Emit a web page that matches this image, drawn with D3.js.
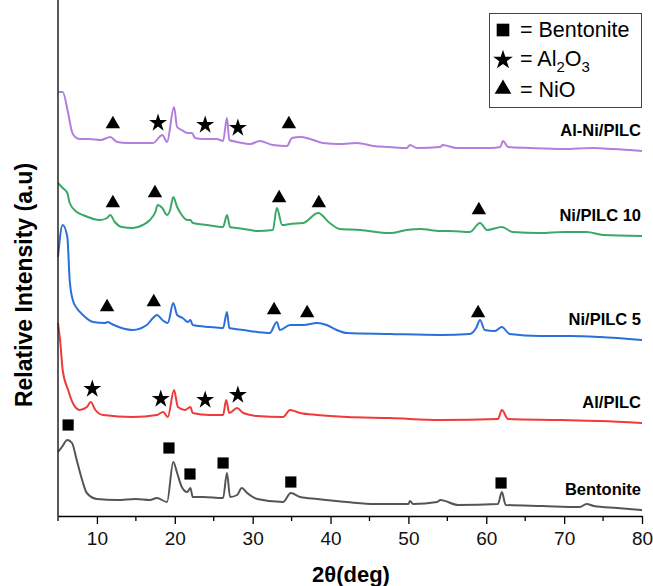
<!DOCTYPE html>
<html>
<head>
<meta charset="utf-8">
<script src="https://cdn.jsdelivr.net/npm/d3@7"></script>
<style>
    body { margin: 0; background: white; }
    svg { font-family: "Liberation Sans", Arial, sans-serif; }
</style>
</head>
<body>
<svg id="xrd"></svg>
<script>
// 2theta (deg), stacked intensity (a.u.)
var bentonite = [[5,64],[5.5,69],[6.2,76],[6.8,73],[7.4,56],[8.1,36],[8.7,23],[10,17],[12.6,16],[15,17],[16.8,16],
    [17.7,18],[19,14],[19.8,54],[20.3,43],[20.9,29],[21.6,24],[22,28],[22.3,19],[23.6,19],[26.2,18],[26.7,43],
    [27.1,19],[28,21],[28.6,28],[29.3,23],[30.6,17],[33.9,14],[34.9,23],[36.1,19],[38.3,17],[42.1,14],[45.7,12],
    [50,12],[50.2,15],[50.6,12],[53.7,14],[54.1,16],[56.4,11],[61.5,12],[62,24],[62.5,11],[67.2,10],[72,9],
    [72.9,12],[73.8,10],[76.8,8],[80,6]]

var alPilc = [[5,193],[5.3,173],[5.6,146],[6.3,126],[6.9,113],[7.8,106],[8.7,109],[9.2,114],[9.8,106],[10.8,101],
    [14.6,99],[17.7,101],[18.5,104],[19.1,99],[19.9,126],[20.4,109],[21.3,106],[22,109],[22.3,103],[24.5,101],
    [26.2,101],[26.6,116],[27,103],[28,108],[28.8,103],[30.6,100],[33.9,99],[34.8,106],[36.1,103],[38.3,101],
    [42.1,99],[47.6,98],[54.1,96],[61.5,97],[62,106],[62.8,97],[69.5,96],[74.6,95],[80,93]]

var niPilc5 = [[5,259],[5.6,291],[6.2,279],[6.5,236],[6.9,216],[7.4,208],[8.2,201],[9.5,194],[11,193],[11.4,194],
    [11.9,192],[14.6,186],[16.4,191],[17.2,198],[17.7,201],[18.4,196],[19.1,193],[19.8,213],[20.3,201],[21,198],
    [21.7,194],[22,196],[22.3,191],[24.5,189],[26.2,188],[26.7,204],[27,188],[28.8,186],[30.6,184],[32.2,183],
    [33.1,194],[33.5,186],[34.8,191],[36.5,191],[38.3,193],[39.5,191],[40.8,186],[42.1,183],[47.6,182],[54.1,181],
    [57.9,182],[58.7,188],[59.2,196],[59.8,186],[61.1,185],[62,189],[63,182],[66.9,180],[70.8,180],[74.6,179],[80,176]]

var niPilc10 = [[5,333],[5.6,328],[6.2,323],[6.5,313],[7.4,304],[8.2,301],[10.4,296],[11.3,298],[11.7,301],[12.3,294],
    [13.2,289],[14.6,288],[15.9,291],[16.8,296],[17.5,304],[17.8,311],[18.4,308],[19,301],[19.4,306],[19.8,319],
    [20.3,309],[20.9,301],[21.6,296],[22,296],[22.3,293],[24.1,291],[26.2,289],[26.7,301],[27.1,289],[28,288],
    [29.7,286],[30.6,285],[32.6,286],[33.1,308],[33.8,291],[34.8,292],[36.5,293],[38.4,303],[39.9,293],[41.2,287],
    [43.8,286],[47.6,283],[49.8,286],[51.5,287],[54.1,285],[55.3,285],[57.9,284],[59.2,293],[60.1,286],[62,289],
    [63.4,284],[66.9,283],[69.9,284],[72.9,284],[75,281],[80,280]]

var alNiPilc = [[5,424],[5.6,424],[6.3,403],[6.8,384],[7.2,379],[7.8,377],[9,377],[10.5,376],[11.7,379],[12.6,374],
    [14,373],[16,373],[17.2,373],[18.4,381],[19,374],[19.9,409],[20.3,389],[20.9,386],[21.6,383],[22.2,383],
    [22.6,378],[23.6,377],[25.4,377],[26.2,375],[26.7,398],[27,376],[28,374],[29.7,372],[30.9,375],[32.6,371],
    [34.4,370],[35.05,378],[36.1,379],[37.4,377],[39,373],[41.2,372],[43.4,373],[45.5,370],[47.6,369],[49.8,368],
    [50.2,371],[51.1,368],[54.1,369],[54.4,371],[56.2,368],[60.5,368],[61.8,369],[62.15,375],[62.8,369],
    [65.6,368],[69.9,367],[73.7,368],[76.3,367],[80,365]]

var seriesNames = ["Bentonite", "Al/PILC", "Ni/PILC 5", "Ni/PILC 10", "Al-Ni/PILC"]
var seriesData = [bentonite, alPilc, niPilc5, niPilc10, alNiPilc]
var seriesColors = ["#555555", "#ee3a3a", "#2b70da", "#3aa966", "#b27fdd"]

// phase markers: 2theta, a.u.
var squareMarks = [[6.3,91],[19.25,68],[21.95,42],[26.2,53],[34.9,34],[61.9,33]]
var starMarks = [[9.4,127],[18.2,117],[23.9,116],[28.1,121],
    [17.85,393],[23.9,391],[28.1,388]]
var triangleMarks = [[11.3,209],[17.3,214],[32.75,206],[37,203],[58.95,203],
    [12.05,313],[17.45,323],[33.4,318],[38.5,313],[59.05,306],
    [12.05,392],[34.65,392]]

var xTicks = [10, 20, 30, 40, 50, 60, 70, 80]
var xMinorTicks = [5, 15, 25, 35, 45, 55, 65, 75]

var svg_dimensions = {
    width: 653,
    height: 586,
    margin: { top: 0, bottom: 70, right: 11, left: 58 }
}

var svg = d3.select("#xrd")
            .attr("width", svg_dimensions.width)
            .attr("height", svg_dimensions.height)

var xScale = d3.scaleLinear()
               .domain([5, 80])
               .range([svg_dimensions.margin.left, svg_dimensions.width - svg_dimensions.margin.right])

var yScale = d3.scaleLinear()
               .domain([0, 460])
               .range([svg_dimensions.height - svg_dimensions.margin.bottom, 56])

var lineGen = d3.line()
                .x(d => xScale(d[0]))
                .y(d => yScale(d[1]))
                .curve(d3.curveMonotoneX)

svg.append("g")
   .selectAll("path")
   .data(seriesData)
   .enter()
   .append("path")
   .attr("d", d => lineGen(d))
   .attr("fill", "none")
   .attr("stroke", (d, i) => seriesColors[i])
   .attr("stroke-width", 2)
   .attr("stroke-linejoin", "round")

// trace labels, right aligned just above the end of each trace
svg.append("g")
   .selectAll("text")
   .data(seriesData)
   .enter()
   .append("text")
   .attr("x", xScale(80) - 1)
   .attr("y", d => yScale(d[d.length - 1][1]) - 15)
   .attr("text-anchor", "end")
   .attr("font-weight", "bold")
   .attr("font-size", "16.5px")
   .text((d, i) => seriesNames[i])

function drawMarks(marks, type, size) {
    svg.append("g")
       .selectAll("path")
       .data(marks)
       .enter()
       .append("path")
       .attr("d", d3.symbol().type(type).size(size))
       .attr("transform", d => `translate(${xScale(d[0])},${yScale(d[1])})`)
       .attr("fill", "black")
}

drawMarks(squareMarks, d3.symbolSquare, 125)
drawMarks(starMarks, d3.symbolStar, 100)
drawMarks(triangleMarks, d3.symbolTriangle, 90)

// axes
var xAxisGen = d3.axisBottom().scale(xScale).tickValues(xTicks).tickSize(8).tickSizeOuter(0).tickPadding(8)

var xAxis = svg.append("g")
               .attr("transform", `translate(0,${yScale(0)})`)
               .call(xAxisGen)

xAxis.selectAll("text")
     .attr("font-size", "19px")
     .attr("font-family", "Liberation Sans, Arial, sans-serif")
     .attr("fill", "#111")
xAxis.select(".domain").attr("stroke-width", 1.5)
xAxis.selectAll(".tick line").attr("stroke-width", 1.3)

svg.append("g")
   .attr("transform", `translate(0,${yScale(0)})`)
   .selectAll("line")
   .data(xMinorTicks)
   .enter()
   .append("line")
   .attr("x1", d => xScale(d))
   .attr("x2", d => xScale(d))
   .attr("y1", 0)
   .attr("y2", 5)
   .attr("stroke", "black")
   .attr("stroke-width", 1.3)

svg.append("line")
   .attr("x1", xScale(5))
   .attr("x2", xScale(5))
   .attr("y1", 0)
   .attr("y2", yScale(0))
   .attr("stroke", "#222")
   .attr("stroke-width", 1.5)

var xLab = svg.append("text")
              .attr("x", 351)
              .attr("y", 582)
              .attr("text-anchor", "middle")
              .attr("font-weight", "bold")
              .attr("font-size", "22px")
              .text("2θ(deg)")

var yLab = svg.append("text")
              .attr("transform", "rotate(-90)")
              .attr("x", -285)
              .attr("y", 32)
              .attr("text-anchor", "middle")
              .attr("font-weight", "bold")
              .attr("font-size", "23px")
              .text("Relative Intensity (a.u)")

// legend
var legend = svg.append("g")

legend.append("rect")
      .attr("x", 489.5)
      .attr("y", 13.5)
      .attr("width", 152)
      .attr("height", 94)
      .attr("fill", "white")
      .attr("stroke", "#444")
      .attr("stroke-width", 1)

var legendTypes = [d3.symbolSquare, d3.symbolStar, d3.symbolTriangle]
var legendSizes = [160, 120, 120]
var legendRows = [30, 60, 89]

legend.selectAll("path")
      .data(legendTypes)
      .enter()
      .append("path")
      .attr("d", (d, i) => d3.symbol().type(d).size(legendSizes[i])())
      .attr("transform", (d, i) => `translate(503,${legendRows[i]})`)
      .attr("fill", "black")

legend.append("text")
      .attr("x", 520)
      .attr("y", legendRows[0] + 7)
      .attr("font-size", "21.5px")
      .text("= Bentonite")

var alText = legend.append("text")
                   .attr("x", 520)
                   .attr("y", legendRows[1] + 6)
                   .attr("font-size", "21.5px")
alText.append("tspan").text("= Al")
alText.append("tspan").attr("dy", 6).attr("font-size", "15px").text("2")
alText.append("tspan").attr("dy", -6).text("O")
alText.append("tspan").attr("dy", 6).attr("font-size", "15px").text("3")

legend.append("text")
      .attr("x", 520)
      .attr("y", legendRows[2] + 8)
      .attr("font-size", "21.5px")
      .text("= NiO")
</script>
</body>
</html>
